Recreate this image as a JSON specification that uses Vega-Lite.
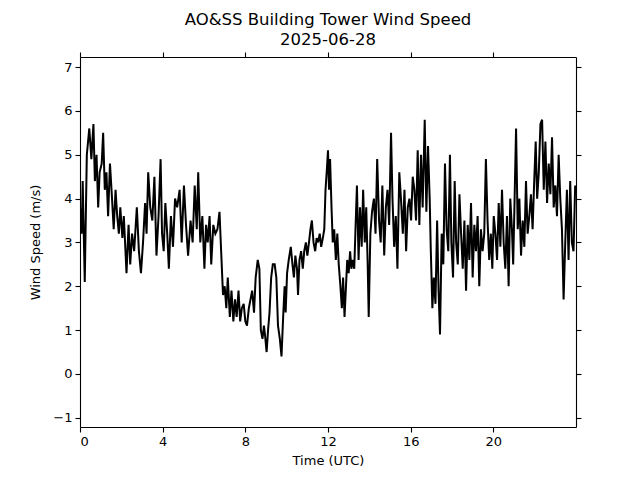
{
  "$schema": "https://vega.github.io/schema/vega-lite/v6.json",
  "width": 496,
  "height": 370,
  "autosize": {"type": "none"},
  "padding": {"left": 80, "top": 57, "right": 64, "bottom": 53},
  "background": "white",
  "config": {
    "view": {"stroke": null},
    "font": "DejaVu Sans",
    "axis": {"grid": false, "domainColor": "black", "domainWidth": 1.1, "tickColor": "black", "tickWidth": 1.1, "tickSize": 5, "labelFont": "DejaVu Sans", "labelFontSize": 13, "labelColor": "black", "titleFont": "DejaVu Sans", "titleFontSize": 13, "titleFontWeight": "normal", "titleColor": "black", "labelPadding": 3}
  },
  "title": {"text": ["AO&SS Building Tower Wind Speed", "2025-06-28"], "fontSize": 16.5, "fontWeight": "normal", "font": "DejaVu Sans", "color": "black", "anchor": "middle", "offset": 5, "dy": 2, "lineHeight": 20},
  "data": {"values": [
    {"t":0.00,"v":3.8},{"t":0.08,"v":3.2},{"t":0.13,"v":4.4},{"t":0.23,"v":2.1},{"t":0.33,"v":5.0},{"t":0.45,"v":5.6},{"t":0.55,"v":4.9},{"t":0.65,"v":5.7},{"t":0.72,"v":4.4},{"t":0.80,"v":5.0},{"t":0.88,"v":3.8},{"t":0.95,"v":4.6},
    {"t":1.05,"v":4.8},{"t":1.12,"v":5.5},{"t":1.20,"v":4.2},{"t":1.28,"v":4.6},{"t":1.36,"v":3.6},{"t":1.45,"v":4.8},{"t":1.55,"v":4.0},{"t":1.63,"v":3.3},{"t":1.72,"v":4.2},{"t":1.80,"v":3.6},{"t":1.88,"v":3.2},{"t":1.95,"v":3.8},
    {"t":2.05,"v":3.1},{"t":2.12,"v":3.6},{"t":2.25,"v":2.3},{"t":2.35,"v":3.4},{"t":2.43,"v":2.5},{"t":2.52,"v":3.2},{"t":2.62,"v":2.8},{"t":2.75,"v":3.8},{"t":2.85,"v":2.8},{"t":2.95,"v":2.3},
    {"t":3.05,"v":3.0},{"t":3.15,"v":3.9},{"t":3.22,"v":3.2},{"t":3.30,"v":4.6},{"t":3.40,"v":3.8},{"t":3.50,"v":3.5},{"t":3.60,"v":4.5},{"t":3.70,"v":2.7},{"t":3.80,"v":3.6},{"t":3.90,"v":4.9},{"t":3.97,"v":3.2},
    {"t":4.05,"v":2.8},{"t":4.13,"v":3.9},{"t":4.22,"v":3.2},{"t":4.30,"v":2.4},{"t":4.40,"v":3.6},{"t":4.50,"v":2.9},{"t":4.60,"v":4.0},{"t":4.70,"v":3.8},{"t":4.82,"v":4.2},{"t":4.92,"v":3.0},
    {"t":5.03,"v":4.3},{"t":5.13,"v":3.4},{"t":5.23,"v":2.7},{"t":5.35,"v":3.5},{"t":5.45,"v":3.0},{"t":5.55,"v":4.3},{"t":5.65,"v":3.3},{"t":5.72,"v":4.6},{"t":5.82,"v":3.0},{"t":5.92,"v":3.6},
    {"t":6.02,"v":2.4},{"t":6.10,"v":3.4},{"t":6.18,"v":3.0},{"t":6.27,"v":3.6},{"t":6.35,"v":2.5},{"t":6.45,"v":3.4},{"t":6.55,"v":3.2},{"t":6.65,"v":3.3},{"t":6.75,"v":3.7},{"t":6.83,"v":2.8},{"t":6.92,"v":1.8},
    {"t":7.00,"v":2.0},{"t":7.08,"v":1.5},{"t":7.15,"v":2.2},{"t":7.25,"v":1.3},{"t":7.33,"v":1.9},{"t":7.42,"v":1.2},{"t":7.50,"v":1.7},{"t":7.58,"v":1.3},{"t":7.67,"v":1.9},{"t":7.75,"v":1.2},{"t":7.83,"v":1.5},{"t":7.92,"v":1.6},
    {"t":8.00,"v":1.2},{"t":8.08,"v":1.1},{"t":8.17,"v":1.5},{"t":8.25,"v":1.7},{"t":8.33,"v":1.9},{"t":8.42,"v":1.4},{"t":8.50,"v":2.2},{"t":8.60,"v":2.6},{"t":8.68,"v":2.4},{"t":8.75,"v":1.0},{"t":8.83,"v":0.8},{"t":8.90,"v":1.1},{"t":8.95,"v":0.9},
    {"t":9.03,"v":0.5},{"t":9.10,"v":1.0},{"t":9.17,"v":1.4},{"t":9.25,"v":2.2},{"t":9.33,"v":2.5},{"t":9.42,"v":2.5},{"t":9.50,"v":2.2},{"t":9.58,"v":1.1},{"t":9.67,"v":0.8},{"t":9.75,"v":0.4},{"t":9.83,"v":1.3},{"t":9.90,"v":2.0},{"t":9.95,"v":1.4},
    {"t":10.02,"v":2.3},{"t":10.10,"v":2.6},{"t":10.20,"v":2.9},{"t":10.28,"v":2.5},{"t":10.35,"v":2.2},{"t":10.42,"v":2.7},{"t":10.50,"v":2.4},{"t":10.55,"v":1.8},{"t":10.62,"v":2.6},{"t":10.70,"v":2.8},{"t":10.78,"v":2.4},{"t":10.85,"v":2.8},{"t":10.93,"v":3.0},
    {"t":11.00,"v":2.7},{"t":11.08,"v":3.0},{"t":11.15,"v":3.3},{"t":11.22,"v":3.5},{"t":11.30,"v":3.0},{"t":11.38,"v":2.8},{"t":11.45,"v":3.1},{"t":11.52,"v":3.0},{"t":11.60,"v":3.2},{"t":11.67,"v":2.9},{"t":11.75,"v":3.1},{"t":11.82,"v":3.3},{"t":11.88,"v":4.2},{"t":11.95,"v":4.7},
    {"t":12.00,"v":5.1},{"t":12.05,"v":4.2},{"t":12.10,"v":4.9},{"t":12.17,"v":3.8},{"t":12.23,"v":3.0},{"t":12.30,"v":3.3},{"t":12.38,"v":2.6},{"t":12.45,"v":3.2},{"t":12.52,"v":2.5},{"t":12.60,"v":2.0},{"t":12.67,"v":1.5},{"t":12.73,"v":2.2},{"t":12.80,"v":1.3},{"t":12.87,"v":2.0},{"t":12.93,"v":2.6},
    {"t":13.00,"v":2.3},{"t":13.07,"v":2.8},{"t":13.13,"v":2.4},{"t":13.20,"v":2.6},{"t":13.27,"v":2.4},{"t":13.33,"v":3.3},{"t":13.40,"v":4.3},{"t":13.48,"v":2.6},{"t":13.55,"v":3.8},{"t":13.63,"v":2.9},{"t":13.70,"v":4.2},{"t":13.78,"v":3.0},{"t":13.85,"v":3.8},{"t":13.92,"v":2.5},{"t":13.97,"v":1.3},
    {"t":14.05,"v":3.2},{"t":14.13,"v":3.7},{"t":14.22,"v":4.0},{"t":14.30,"v":3.2},{"t":14.38,"v":4.9},{"t":14.47,"v":3.5},{"t":14.55,"v":3.0},{"t":14.63,"v":4.3},{"t":14.72,"v":2.7},{"t":14.80,"v":3.8},{"t":14.88,"v":4.2},{"t":14.96,"v":3.4},
    {"t":15.05,"v":5.5},{"t":15.12,"v":4.0},{"t":15.20,"v":2.9},{"t":15.28,"v":3.6},{"t":15.36,"v":2.4},{"t":15.45,"v":4.6},{"t":15.53,"v":4.0},{"t":15.62,"v":3.2},{"t":15.70,"v":4.2},{"t":15.78,"v":2.8},{"t":15.86,"v":3.8},{"t":15.94,"v":4.0},
    {"t":16.02,"v":3.5},{"t":16.10,"v":4.5},{"t":16.18,"v":4.2},{"t":16.26,"v":3.5},{"t":16.34,"v":5.1},{"t":16.42,"v":3.4},{"t":16.50,"v":5.0},{"t":16.58,"v":3.8},{"t":16.68,"v":5.8},{"t":16.76,"v":3.7},{"t":16.84,"v":5.2},{"t":16.92,"v":4.0},{"t":16.97,"v":2.9},
    {"t":17.05,"v":1.5},{"t":17.12,"v":2.2},{"t":17.20,"v":1.6},{"t":17.28,"v":3.5},{"t":17.35,"v":1.9},{"t":17.42,"v":0.9},{"t":17.50,"v":3.2},{"t":17.58,"v":2.5},{"t":17.66,"v":4.8},{"t":17.74,"v":3.3},{"t":17.82,"v":2.8},{"t":17.90,"v":5.0},{"t":17.97,"v":3.0},
    {"t":18.05,"v":2.2},{"t":18.13,"v":4.4},{"t":18.20,"v":3.0},{"t":18.28,"v":2.5},{"t":18.36,"v":4.1},{"t":18.44,"v":3.2},{"t":18.52,"v":2.4},{"t":18.60,"v":3.5},{"t":18.68,"v":1.9},{"t":18.76,"v":3.4},{"t":18.84,"v":2.6},{"t":18.92,"v":3.9},
    {"t":19.00,"v":2.2},{"t":19.08,"v":3.4},{"t":19.16,"v":2.8},{"t":19.24,"v":3.6},{"t":19.32,"v":2.0},{"t":19.40,"v":3.3},{"t":19.48,"v":2.8},{"t":19.56,"v":3.2},{"t":19.64,"v":4.9},{"t":19.72,"v":3.5},{"t":19.80,"v":2.6},{"t":19.88,"v":3.2},{"t":19.95,"v":2.4},
    {"t":20.02,"v":3.6},{"t":20.10,"v":3.2},{"t":20.18,"v":2.6},{"t":20.26,"v":3.9},{"t":20.34,"v":2.9},{"t":20.42,"v":4.2},{"t":20.50,"v":3.0},{"t":20.58,"v":2.4},{"t":20.66,"v":3.6},{"t":20.74,"v":2.0},{"t":20.82,"v":4.0},{"t":20.90,"v":3.3},{"t":20.96,"v":2.5},
    {"t":21.02,"v":3.8},{"t":21.10,"v":5.6},{"t":21.18,"v":3.3},{"t":21.26,"v":4.0},{"t":21.34,"v":2.7},{"t":21.42,"v":3.5},{"t":21.50,"v":2.9},{"t":21.58,"v":4.4},{"t":21.66,"v":3.2},{"t":21.74,"v":3.6},{"t":21.82,"v":4.1},{"t":21.90,"v":3.3},
    {"t":21.97,"v":4.3},{"t":22.05,"v":5.3},{"t":22.12,"v":4.0},{"t":22.20,"v":4.6},{"t":22.28,"v":5.7},{"t":22.36,"v":5.8},{"t":22.44,"v":4.2},{"t":22.52,"v":5.3},{"t":22.60,"v":3.9},{"t":22.68,"v":4.8},{"t":22.76,"v":4.1},{"t":22.84,"v":5.4},{"t":22.92,"v":3.8},
    {"t":23.00,"v":4.3},{"t":23.08,"v":3.6},{"t":23.16,"v":5.0},{"t":23.24,"v":4.0},{"t":23.32,"v":3.3},{"t":23.40,"v":1.7},{"t":23.48,"v":3.0},{"t":23.56,"v":4.2},{"t":23.64,"v":2.6},{"t":23.72,"v":4.4},{"t":23.80,"v":3.0},{"t":23.88,"v":2.8},{"t":23.96,"v":4.3}
  ]},
  "layer": [
    {
      "mark": {"type": "line", "color": "black", "strokeWidth": 2, "clip": true},
      "encoding": {
        "x": {"field": "t", "type": "quantitative", "scale": {"domain": [0, 24], "nice": false, "zero": false}, "axis": {"values": [0, 4, 8, 12, 16, 20], "title": "Time (UTC)", "titlePadding": 6}},
        "y": {"field": "v", "type": "quantitative", "scale": {"domain": [-1.21, 7.23], "nice": false, "zero": false}, "axis": {"values": [-1, 0, 1, 2, 3, 4, 5, 6, 7], "title": "Wind Speed (m/s)", "titlePadding": 10}}
      }
    },
    {
      "mark": {"type": "line", "opacity": 0},
      "encoding": {
        "x": {"field": "t", "type": "quantitative", "axis": {"orient": "top", "values": [0, 4, 8, 12, 16, 20], "labels": false, "title": null}},
        "y": {"field": "v", "type": "quantitative", "axis": {"orient": "right", "values": [-1, 0, 1, 2, 3, 4, 5, 6, 7], "labels": false, "title": null}}
      }
    }
  ],
  "resolve": {"axis": {"x": "independent", "y": "independent"}}
}
